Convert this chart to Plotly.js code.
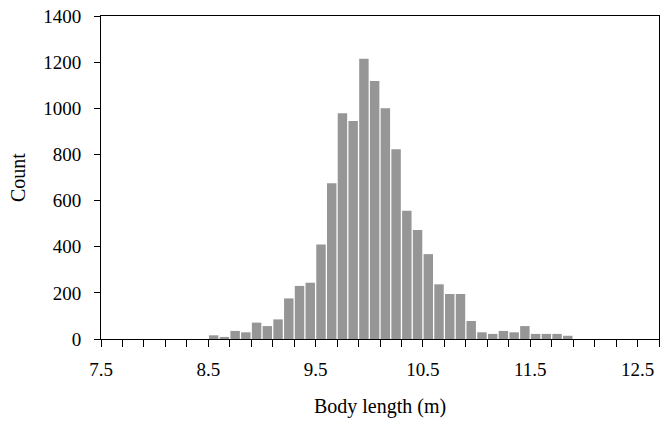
<!DOCTYPE html>
<html>
<head>
<meta charset="utf-8">
<script src="https://cdn.plot.ly/plotly-3.0.1.min.js"></script>
<style>html,body{margin:0;padding:0;background:#fff;}#chart{width:664px;height:421px;}</style>
</head>
<body>
<div id="chart"></div>
<script>
// Bin left edges (width 0.1 m) and counts
var binStarts = [7.5,7.6,7.7,7.8,7.9,8.0,8.1,8.2,8.3,8.4,
                 8.5,8.6,8.7,8.8,8.9,9.0,9.1,9.2,9.3,9.4,
                 9.5,9.6,9.7,9.8,9.9,10.0,10.1,10.2,10.3,10.4,
                 10.5,10.6,10.7,10.8,10.9,11.0,11.1,11.2,11.3,11.4,
                 11.5,11.6,11.7,11.8,11.9,12.0,12.1,12.2,12.3,12.4,
                 12.5,12.6];
var counts = [0,0,0,0,0,0,0,0,0,0,
              16,9,35,29,71,56,85,176,230,244,
              410,675,979,945,1215,1118,1000,822,556,472,
              368,237,195,195,78,29,22,35,29,56,
              22,22,22,14,0,0,0,0,0,0,
              0,0];
var tickLabels = ['7.5','8.5','9.5','10.5','11.5','12.5'];
var tickValues = [7.5,8.5,9.5,10.5,11.5,12.5];
var binWidth = 0.1;

var centers = binStarts.map(function(s){ return s + binWidth/2; });

var trace = {
  type: 'bar',
  x: centers,
  y: counts,
  width: 0.088,
  marker: {color: '#969696', line: {width: 0}},
  hoverinfo: 'x+y'
};

var fam = '"Liberation Serif", "Times New Roman", serif';
var tickFont = {family: fam, size: 19, color: '#000'};
var titleFont = {family: fam, size: 20, color: '#000'};

var layout = {
  width: 664, height: 421,
  margin: {l: 101, r: 5, t: 16, b: 82, pad: 0},
  paper_bgcolor: '#fff', plot_bgcolor: '#fff',
  showlegend: false,
  font: tickFont,
  xaxis: {
    range: [7.5, 12.7],
    tickvals: tickValues,
    ticktext: tickLabels,
    ticks: 'outside', ticklen: 7, tickwidth: 1, tickcolor: '#000',
    minor: {dtick: 0.2, tick0: 7.5, ticks: 'outside', ticklen: 7, tickwidth: 1, tickcolor: '#000', showgrid: false},
    showline: true, linecolor: '#000', linewidth: 1, mirror: true,
    showgrid: false, zeroline: false,
    tickfont: tickFont,
    ticklabelstandoff: 6,
    automargin: false,
    title: {text: 'Body length (m)', font: titleFont, standoff: 20}
  },
  yaxis: {
    range: [0, 1400],
    dtick: 200, tick0: 0,
    ticks: 'outside', ticklen: 6, tickwidth: 1, tickcolor: '#000',
    showline: true, linecolor: '#000', linewidth: 1, mirror: true,
    showgrid: false, zeroline: false,
    tickfont: tickFont,
    ticklabelstandoff: 9,
    automargin: false,
    title: {text: 'Count', font: titleFont, standoff: 12}
  }
};

Plotly.newPlot('chart', [trace], layout, {staticPlot: true, displayModeBar: false});
</script>
</body>
</html>
